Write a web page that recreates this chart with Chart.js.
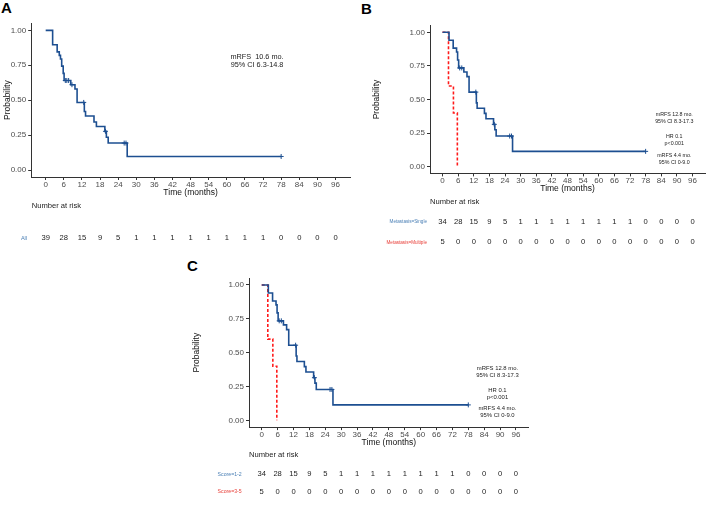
<!DOCTYPE html>
<html><head><meta charset="utf-8">
<script src="https://cdn.jsdelivr.net/npm/chart.js@4/dist/chart.umd.min.js"></script>
<style>
html,body{margin:0;padding:0;background:#fff;width:710px;height:506px;overflow:hidden;position:relative;font-family:"Liberation Sans",Arial,sans-serif}
canvas{position:absolute}
.lbl{position:absolute;font-weight:bold;font-size:15px;color:#000;line-height:1;font-family:"Liberation Sans",Arial,sans-serif}
</style></head><body>
<div class="lbl" style="left:1px;top:0px">A</div>
<div class="lbl" style="left:361px;top:1px">B</div>
<div class="lbl" style="left:187px;top:258px">C</div>
<canvas id="ca" width="355" height="250" style="left:0px;top:0px"></canvas>
<canvas id="cb" width="355" height="250" style="left:355px;top:0px"></canvas>
<canvas id="cc" width="360" height="256" style="left:175px;top:250px"></canvas>
<script>
// ---- data ----
const xTicks = [0,6,12,18,24,30,36,42,48,54,60,66,72,78,84,90,96];
const yTicks = [0,0.25,0.5,0.75,1];
const yLabels = ['0.00','0.25','0.50','0.75','1.00'];

// Panel A: all patients
const allTime = [0,2.3,3.8,4.5,4.9,5.3,5.8,6.1,8.3,9.7,10.4,12.8,13.2,16.0,16.8,19.6,20.1,20.7,27.0,78];
const allSurv = [1,0.897,0.846,0.821,0.795,0.744,0.692,0.641,0.611,0.580,0.484,0.419,0.387,0.344,0.312,0.277,0.235,0.193,0.097,0.097];
const allCensTime = [6.5,7.0,7.6,8.7,12.6,19.8,26.0,26.6,78];
const allCensSurv = [0.641,0.641,0.641,0.611,0.484,0.277,0.193,0.193,0.097];
const riskAll = [39,28,15,9,5,1,1,1,1,1,1,1,1,0,0,0,0];

// Panels B and C: single / low score group
const singleTime = [0,2.5,4.1,5.4,5.8,6.2,8.2,9.4,10.2,13.0,13.3,16.1,16.7,19.6,20.1,20.6,26.9,78];
const singleSurv = [1,0.941,0.882,0.853,0.794,0.735,0.705,0.670,0.555,0.475,0.435,0.397,0.357,0.315,0.275,0.228,0.114,0.114];
const singleCensTime = [6.6,7.4,12.8,19.9,25.8,26.5,78];
const singleCensSurv = [0.735,0.735,0.555,0.315,0.228,0.228,0.114];
const riskSingle = [34,28,15,9,5,1,1,1,1,1,1,1,1,0,0,0,0];

// multiple / high score group
const multiTime = [0,2.3,4.2,5.7];
const multiSurv = [1,0.6,0.4,0];
const riskMulti = [5,0,0,0,0,0,0,0,0,0,0,0,0,0,0,0,0];

// ---- drawing ----
const FAM = '"Liberation Sans", Arial, sans-serif';
const BLUE = '#1d4f91';
const RED = '#ff1a1a';

const textPlugin = {
  id: 'kmText',
  afterDraw(chart, args, o) {
    const ctx = chart.ctx, xs = chart.scales.x, ys = chart.scales.y;
    ctx.save();
    ctx.textBaseline = 'middle';
    ctx.textAlign = 'center';
    ctx.fillStyle = '#222';
    ctx.font = o.annSize + 'px ' + FAM;
    o.ann.forEach(a => ctx.fillText(a.text, xs.getPixelForValue(a.x), ys.getPixelForValue(a.y)));
    ctx.textAlign = 'left';
    ctx.font = '7.6px ' + FAM;
    ctx.fillStyle = '#222';
    ctx.fillText('Number at risk', o.titleX, o.titleY);
    o.rows.forEach(r => {
      ctx.font = r.labelSize + 'px ' + FAM;
      ctx.fillStyle = r.color;
      ctx.textAlign = 'right';
      ctx.fillText(r.label, o.labelX, r.y);
      ctx.font = '7.6px ' + FAM;
      ctx.fillStyle = '#222';
      ctx.textAlign = 'center';
      r.values.forEach((v, i) => ctx.fillText(String(v), xs.getPixelForValue(xTicks[i]), r.y));
    });
    ctx.restore();
  }
};

function km(id, cfg) {
  const datasets = [];
  cfg.curves.forEach(c => {
    datasets.push({type:'line', data:c.t.map((t,i)=>({x:t,y:c.s[i]})), borderColor:c.color, borderWidth:1.6,
      borderDash:c.dash||[], stepped:true, pointRadius:0, fill:false, order:2});
    if (c.ct) datasets.push({type:'scatter', data:c.ct.map((t,i)=>({x:t,y:c.cs[i]})), pointStyle:'cross',
      pointRadius:2.5, borderColor:c.color, backgroundColor:c.color, borderWidth:1, order:1});
  });
  new Chart(document.getElementById(id), {
    type:'line',
    data:{datasets},
    options:{
      responsive:false, animation:false, events:[],
      layout:{padding:cfg.pad},
      plugins:{legend:{display:false}, tooltip:{enabled:false}, kmText:cfg.text},
      scales:{
        x:{type:'linear', min:-4.8, max:100.8,
          afterBuildTicks:s=>{s.ticks = xTicks.map(v=>({value:v}));},
          afterFit:s=>{s.height = cfg.xH; s.paddingLeft = 0; s.paddingRight = 0;},
          ticks:{autoSkip:false, maxRotation:0, color:'#4d4d4d', font:{size:8, family:FAM}, padding:0, callback:v=>String(v)},
          grid:{drawOnChartArea:false, drawTicks:true, tickLength:3, color:'#333'},
          border:{display:true, color:'#333', width:1},
          title:{display:true, text:'Time (months)', color:'#111', font:{size:8.5, family:FAM}, padding:0}
        },
        y:{type:'linear', min:-0.05, max:1.05,
          afterBuildTicks:s=>{s.ticks = yTicks.map(v=>({value:v}));},
          afterFit:s=>{s.width = cfg.yW; s.paddingTop = 0; s.paddingBottom = 0;},
          ticks:{autoSkip:false, color:'#4d4d4d', font:{size:8, family:FAM}, padding:2, callback:(v,i)=>yLabels[i]},
          grid:{drawOnChartArea:false, drawTicks:true, tickLength:3, color:'#333'},
          border:{display:true, color:'#333', width:1},
          title:{display:true, text:'Probability', color:'#111', font:{size:8.5, family:FAM}, padding:{top:cfg.yTitlePad, bottom:0}}
        }
      }
    },
    plugins:[textPlugin]
  });
}

km('ca', {
  pad:{left:0, top:23.4, right:4, bottom:52.6}, yW:31.2, xH:20.4, yTitlePad:2.9,
  curves:[{t:allTime, s:allSurv, ct:allCensTime, cs:allCensSurv, color:BLUE}],
  text:{annSize:7.3, ann:[{text:'mRFS  10.6 mo.', x:70, y:0.81},{text:'95% CI 6.3-14.8', x:70, y:0.755}],
    titleX:31.7, titleY:205.7, labelX:27,
    rows:[{label:'All', color:'#4a7fb5', labelSize:5.5, y:238, values:riskAll}]}
});

const annBC = (size) => [
  {text:'mRFS 12.8 mo.', x:89, y:0.385},
  {text:'95% CI 8.3-17.3', x:89, y:0.333},
  {text:'HR 0.1', x:89, y:0.225},
  {text:'p<0.001', x:89, y:0.173},
  {text:'mRFS 4.4 mo.', x:89, y:0.085},
  {text:'95% CI 0-9.0', x:89, y:0.033}
];

km('cb', {
  pad:{left:0, top:25.6, right:0.6, bottom:56.6}, yW:75, xH:20, yTitlePad:16.9,
  curves:[
    {t:singleTime, s:singleSurv, ct:singleCensTime, cs:singleCensSurv, color:BLUE},
    {t:multiTime, s:multiSurv, color:RED, dash:[3,2]}
  ],
  text:{annSize:5.3, ann:annBC(), titleX:75, titleY:201.7, labelX:72,
    rows:[
      {label:'Metastasis=Single', color:'#4a7fb5', labelSize:4.6, y:221.7, values:riskSingle},
      {label:'Metastasis=Multiple', color:'#e8403a', labelSize:4.6, y:242.3, values:riskMulti}
    ]}
});

km('cc', {
  pad:{left:0, top:28.2, right:6.3, bottom:58.2}, yW:74, xH:20.7, yTitlePad:16.9,
  curves:[
    {t:singleTime, s:singleSurv, ct:singleCensTime, cs:singleCensSurv, color:BLUE},
    {t:multiTime, s:multiSurv, color:RED, dash:[3,2]}
  ],
  text:{annSize:5.9, ann:annBC(), titleX:74, titleY:205, labelX:66.7,
    rows:[
      {label:'Score=1-2', color:'#4a7fb5', labelSize:5.2, y:224.3, values:riskSingle},
      {label:'Score=3-5', color:'#e8403a', labelSize:5.2, y:241.7, values:riskMulti}
    ]}
});
</script>
</body></html>
